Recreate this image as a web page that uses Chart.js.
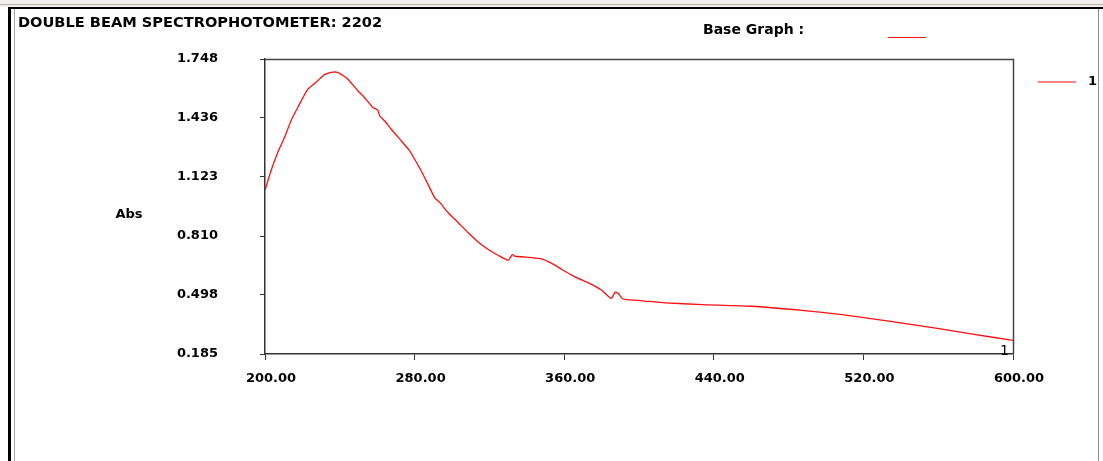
<!DOCTYPE html>
<html>
<head>
<meta charset="utf-8">
<title>DOUBLE BEAM SPECTROPHOTOMETER: 2202</title>
<script src="https://cdn.jsdelivr.net/npm/chart.js@4.4.1/dist/chart.umd.min.js"></script>
<style>
  html, body { margin: 0; padding: 0; background: #ffffff; }
  #wrap { position: relative; width: 1103px; height: 461px; overflow: hidden; }
  canvas { display: block; }
</style>
</head>
<body>
<div id="wrap"><canvas id="spec" width="1103" height="461"></canvas></div>
<script>
// Scan of sample 1: wavelength (nm) against absorbance
const wavelengths = [
  200.0, 203.2, 206.8, 210.4, 213.9, 217.5, 222.9, 228.2, 231.8, 235.3,
  238.9, 244.3, 249.6, 253.2, 257.7, 260.3, 261.3, 263.9, 267.5, 272.8,
  277.3, 280.0, 283.5, 287.1, 290.7, 293.4, 297.8, 303.2, 308.7, 314.1,
  319.4, 324.8, 330.1, 332.3, 333.7, 342.7, 348.0, 353.4, 358.7, 365.8,
  373.0, 380.1, 385.1, 387.3, 389.0, 390.8, 392.6, 401.6, 414.0, 433.7,
  460.5, 487.2, 508.6, 533.6, 560.4, 580.0, 600.0
];
const absorbance = [
  1.053, 1.156, 1.253, 1.332, 1.421, 1.491, 1.588, 1.633, 1.665, 1.677,
  1.677, 1.641, 1.580, 1.544, 1.491, 1.477, 1.447, 1.421, 1.376, 1.315,
  1.262, 1.217, 1.156, 1.085, 1.014, 0.988, 0.935, 0.882, 0.827, 0.777,
  0.739, 0.707, 0.682, 0.712, 0.703, 0.696, 0.689, 0.665, 0.633, 0.594,
  0.562, 0.523, 0.479, 0.513, 0.506, 0.481, 0.474, 0.467, 0.456, 0.447,
  0.438, 0.416, 0.394, 0.359, 0.320, 0.288, 0.257
];
const xTicks = [200, 280, 360, 440, 520, 600];
const yTicks = [0.185, 0.498, 0.810, 1.123, 1.436, 1.748];
const seriesName = '1';
const titleText = 'DOUBLE BEAM SPECTROPHOTOMETER: 2202';
const baseGraphText = 'Base Graph :';
const yAxisTitle = 'Abs';

const FONT = '"DejaVu Sans", Verdana, sans-serif';
const RED = '#ff1010';

// Window frame, header texts, legend and plot box drawn around the chart
const decorations = {
  id: 'decorations',
  beforeDraw(chart) {
    const ctx = chart.ctx;
    ctx.save();
    // top strip of the window
    ctx.fillStyle = '#f1efea';
    ctx.fillRect(0, 0, chart.width, 7);
    ctx.fillStyle = '#b5b1a8';
    ctx.fillRect(0, 4, chart.width, 1);
    ctx.fillStyle = '#000000';
    ctx.fillRect(8, 7, chart.width - 8, 2);
    // left edge
    ctx.fillRect(8, 7, 3, chart.height - 7);
    ctx.fillStyle = '#a9a59c';
    ctx.fillRect(14, 9, 1, chart.height - 9);
    // right edge
    ctx.fillStyle = '#8a8a8a';
    ctx.fillRect(1098, 9, 1, chart.height - 9);
    ctx.restore();
  },
  afterDraw(chart) {
    const ctx = chart.ctx;
    const a = chart.chartArea;
    ctx.save();
    // top and right sides of the plot box
    ctx.strokeStyle = '#444444';
    ctx.lineWidth = 1.5;
    ctx.beginPath();
    ctx.moveTo(a.left, a.top + 0.5);
    ctx.lineTo(a.right + 0.5, a.top + 0.5);
    ctx.lineTo(a.right + 0.5, a.bottom);
    ctx.stroke();

    ctx.fillStyle = '#000000';
    ctx.textBaseline = 'middle';
    // title
    ctx.font = 'bold 14.6px ' + FONT;
    ctx.textAlign = 'left';
    ctx.fillText(titleText, 18, 23);
    // base graph marker
    ctx.font = 'bold 14px ' + FONT;
    ctx.fillText(baseGraphText, 703, 30);
    ctx.strokeStyle = RED;
    ctx.lineWidth = 1;
    ctx.beginPath();
    ctx.moveTo(888, 37.5);
    ctx.lineTo(926, 37.5);
    ctx.stroke();
    // y axis title
    ctx.font = 'bold 13px ' + FONT;
    ctx.textAlign = 'center';
    ctx.fillText(yAxisTitle, 129, 215);
    // legend
    ctx.strokeStyle = '#ff5a5a';
    ctx.lineWidth = 1.5;
    ctx.beginPath();
    ctx.moveTo(1038, 82);
    ctx.lineTo(1076, 82);
    ctx.stroke();
    ctx.textAlign = 'left';
    ctx.font = 'bold 13px ' + FONT;
    ctx.fillText(seriesName, 1088, 82);
    // series tag at the end of the trace
    ctx.font = '14px ' + FONT;
    ctx.textAlign = 'right';
    ctx.fillText(seriesName, 1009, 351);
    ctx.restore();
  }
};

const points = wavelengths.map((w, i) => ({ x: w, y: absorbance[i] }));

new Chart(document.getElementById('spec'), {
  type: 'line',
  data: {
    datasets: [{
      label: seriesName,
      data: points,
      borderColor: RED,
      borderWidth: 1.3,
      pointRadius: 0,
      tension: 0.15,
      fill: false
    }]
  },
  options: {
    responsive: false,
    animation: false,
    devicePixelRatio: 1,
    layout: { padding: { left: 0, right: 90, top: 59, bottom: 0 } },
    plugins: {
      legend: { display: false },
      title: { display: false },
      tooltip: { enabled: false }
    },
    scales: {
      x: {
        type: 'linear',
        min: 200,
        max: 600,
        afterBuildTicks: (s) => { s.ticks = xTicks.map(v => ({ value: v })); },
        afterFit: (s) => { s.height = 107; },
        grid: { drawOnChartArea: false, drawTicks: true, tickLength: 6, color: '#333333' },
        border: { display: true, color: '#333333', width: 1.5 },
        ticks: {
          color: '#000000',
          font: { family: FONT, size: 13, weight: 'bold' },
          padding: 11,
          labelOffset: 6,
          maxRotation: 0,
          autoSkip: false,
          callback: (v) => Number(v).toFixed(2)
        }
      },
      y: {
        type: 'linear',
        min: 0.185,
        max: 1.748,
        afterBuildTicks: (s) => { s.ticks = yTicks.map(v => ({ value: v })); },
        afterFit: (s) => { s.width = 265; },
        grid: { drawOnChartArea: false, drawTicks: true, tickLength: 5, color: '#333333' },
        border: { display: true, color: '#333333', width: 1.5 },
        ticks: {
          color: '#000000',
          font: { family: FONT, size: 13, weight: 'bold' },
          padding: 42,
          labelOffset: 0,
          autoSkip: false,
          callback: (v) => Number(v).toFixed(3)
        }
      }
    }
  },
  plugins: [decorations]
});
</script>
</body>
</html>
